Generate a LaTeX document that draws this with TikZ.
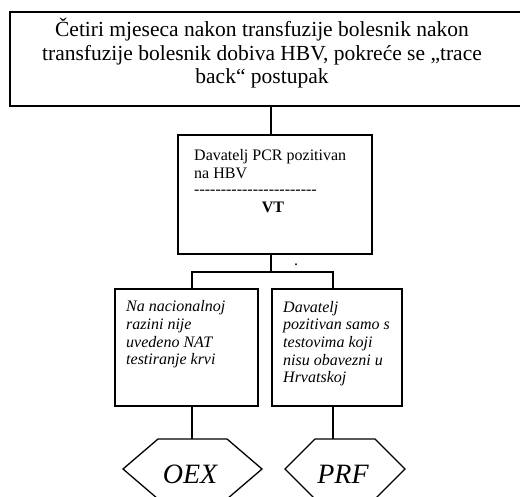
\documentclass[tikz,border=0pt]{standalone}
\usepackage{fontspec}
\setmainfont{Liberation Serif}
\def\dd{-\kern0pt}
\begin{document}
\begin{tikzpicture}[x=1pt,y=-1pt,
  box/.style={draw, line width=1.8pt, rectangle, inner sep=0pt, anchor=north west},
  conn/.style={line width=1.6pt},
  hexa/.style={line width=1.3pt, line join=miter},
  txt/.style={inner sep=0pt, anchor=base west, align=left}]
\useasboundingbox (0,0) rectangle (520,497);
% boxes
\node[box, minimum width=512.5pt, minimum height=94pt] (top) at (9,11) {};
\node[box, minimum width=194pt, minimum height=119pt] (vt) at (177,134) {};
\node[box, minimum width=143pt, minimum height=117pt] (left) at (114,288) {};
\node[box, minimum width=130pt, minimum height=117pt] (right) at (271,288) {};
% texts (anchor base = baseline of the last line)
\node[inner sep=0pt, anchor=base, align=center, font=\fontsize{21.5}{23.5}\selectfont] (toptext) at (262,84)
  {Četiri mjeseca nakon transfuzije bolesnik nakon\\transfuzije bolesnik dobiva HBV, pokreće se „trace\\back“ postupak};
\node[txt, font=\fontsize{16}{18}\selectfont] (vttext) at (194,179)
  {Davatelj PCR pozitivan\\na HBV};
\node[inner sep=0pt, anchor=base west, font=\fontsize{16}{17}\selectfont] (dashes) at (194,195)
  {\dd\dd\dd\dd\dd\dd\dd\dd\dd\dd\dd\dd\dd\dd\dd\dd\dd\dd\dd\dd\dd\dd\dd};
\node[inner sep=0pt, anchor=base, font=\fontsize{16}{17}\selectfont\bfseries] (vtlabel) at (273,213) {VT};
\node[txt, font=\fontsize{16}{17.7}\selectfont\itshape] (lefttext) at (126,365)
  {Na nacionalnoj\\razini nije\\uvedeno NAT\\testiranje krvi};
\node[txt, font=\fontsize{16}{17.7}\selectfont\itshape] (righttext) at (283,383)
  {Davatelj\\pozitivan samo s\\testovima koji\\nisu obavezni u\\Hrvatskoj};
\node[inner sep=0pt, anchor=base, font=\fontsize{16}{17}\selectfont] (dot) at (296,266) {.};
% hexagon labels
\node[inner sep=0pt, anchor=base, font=\fontsize{28}{30}\selectfont\itshape] (oex) at (190,483) {OEX};
\node[inner sep=0pt, anchor=base, font=\fontsize{28}{30}\selectfont\itshape] (prf) at (343,483) {PRF};
\coordinate (oexc) at (192.5,469);
\coordinate (prfc) at (345,469);
\draw[hexa] (oexc) ++(-69.5,0) -- ++(35,-30) -- ++(69,0) -- ++(35,30) -- ++(-35,30) -- ++(-69,0) -- cycle;
\draw[hexa] (prfc) ++(-60,0) -- ++(30,-30) -- ++(60,0) -- ++(30,30) -- ++(-30,30) -- ++(-60,0) -- cycle;
\coordinate (oextop) at (192,439);
\coordinate (prftop) at (333,439);
% connectors
\coordinate (spine) at (271,0);
\coordinate (splitL) at (192,272);
\coordinate (splitR) at (333,272);
\draw[conn] (top.south -| spine) -- (vt.north -| spine);
\draw[conn] (vt.south -| spine) -- (spine |- splitL);
\draw[conn] (left.north -| splitL) -- (splitL) -- (splitR) -- (right.north -| splitR);
\draw[conn] (left.south -| splitL) -- (oextop);
\draw[conn] (right.south -| splitR) -- (prftop);
\end{tikzpicture}
\end{document}
